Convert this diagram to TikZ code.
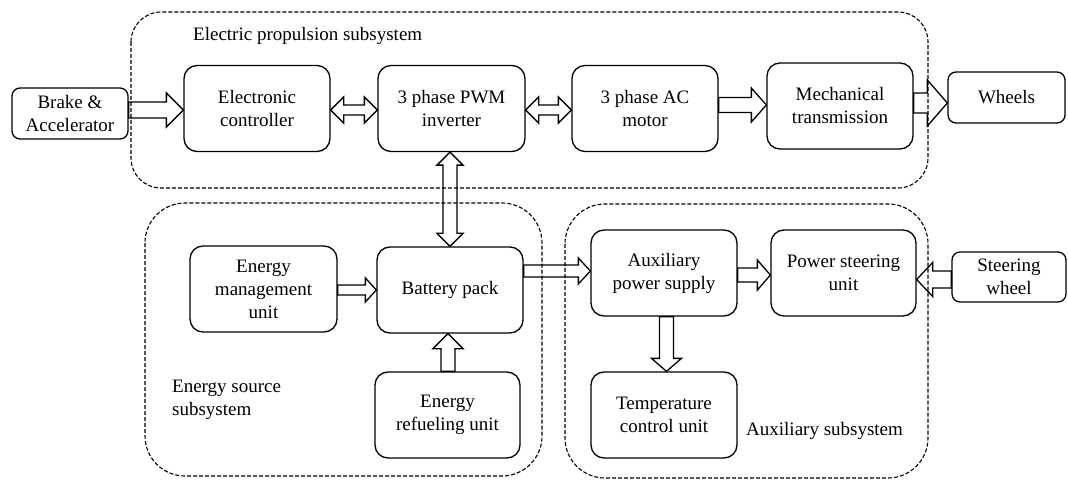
\documentclass[tikz,border=0pt]{standalone}
\usepackage{fontspec}
\setmainfont{Liberation Serif}
\usetikzlibrary{calc}
\tikzset{
  box/.style={draw, line width=1.3pt, rounded corners=13pt, align=center, inner sep=2pt,
    minimum width=146pt, minimum height=86pt, font=\fontsize{19}{23}\selectfont},
  smallbox/.style={box, rounded corners=8pt, minimum height=51pt},
  grp/.style={draw, dashed, line width=1.1pt, dash pattern=on 4pt off 2pt},
  lbl/.style={font=\fontsize{19}{23}\selectfont, align=left, inner sep=0pt},
  blk/.style={draw, line width=1.3pt, line join=miter},
}
\newcommand\sarrow[5]{%
  \path ($(#2)!#5!(#1)$) coordinate (tmpP);
  \draw[blk] ($(#1)!#3!90:(#2)$) -- ($(tmpP)!#3!90:(#2)$) -- ($(tmpP)!#4!90:(#2)$) -- (#2)
    -- ($(tmpP)!#4!-90:(#2)$) -- ($(tmpP)!#3!-90:(#2)$) -- ($(#1)!#3!-90:(#2)$) -- cycle;}
\newcommand\darrow[5]{%
  \path ($(#1)!#5!(#2)$) coordinate (tmpA) ($(#2)!#5!(#1)$) coordinate (tmpB);
  \draw[blk] (#1) -- ($(tmpA)!#4!90:(#2)$) -- ($(tmpA)!#3!90:(#2)$) -- ($(tmpB)!#3!90:(#2)$)
    -- ($(tmpB)!#4!90:(#2)$) -- (#2) -- ($(tmpB)!#4!-90:(#2)$) -- ($(tmpB)!#3!-90:(#2)$)
    -- ($(tmpA)!#3!-90:(#2)$) -- ($(tmpA)!#4!-90:(#2)$) -- cycle;}
\begin{document}
\begin{tikzpicture}[x=1pt, y=-1pt]
\useasboundingbox (0,0) rectangle (1068,481);
% group frames
\draw[grp, rounded corners=30pt] (131,12) rectangle (928,188);
\draw[grp, rounded corners=40pt] (145,203) rectangle (542,476);
\draw[grp, rounded corners=40pt] (565,204) rectangle (928,478);
\node[lbl, anchor=west] (lprop) at (193,36) {Electric propulsion subsystem};
\node[lbl, anchor=west] (lener) at (172,400) {Energy source\\subsystem};
\node[lbl, anchor=west] (laux) at (746,431) {Auxiliary subsystem};
% blocks
\node[smallbox, minimum width=116pt] (brake) at (70,113.5) {Brake \&\\Accelerator};
\node[box] (ec) at (257,108.5) {Electronic\\controller};
\node[box, minimum width=147pt] (inv) at (451.5,108.5) {3 phase PWM\\inverter};
\node[box] (mot) at (645,108.5) {3 phase AC\\motor};
\node[box] (mech) at (840,106) {Mechanical\\transmission};
\node[smallbox, minimum width=117pt] (wh) at (1006.5,97.5) {Wheels};
\node[box, minimum width=147pt] (emu) at (263.5,289) {Energy\\management\\unit};
\node[box] (bat) at (450,290) {Battery pack};
\node[box, minimum width=145pt] (ref) at (447.5,415) {Energy\\refueling unit};
\node[box] (aps) at (664,273) {Auxiliary\\power supply};
\node[box, minimum width=145pt] (psu) at (843.5,273) {Power steering\\unit};
\node[smallbox, minimum width=114pt, minimum height=50pt] (sw) at (1009,277) {Steering\\wheel};
\node[box] (tcu) at (664,415) {Temperature\\control unit};
% connector end points
\coordinate (c1) at (brake.east |- 0,110);
\coordinate (c2) at (ec.west |- 0,110);
\coordinate (c3) at (mech.east |- 0,103);
\coordinate (c4) at (wh.west |- 0,103);
\coordinate (c5) at (bat.east |- 0,271);
\coordinate (c6) at (aps.west |- 0,271);
\coordinate (c7) at (aps.east |- 0,275);
\coordinate (c8) at (psu.west |- 0,275);
\coordinate (c9) at (sw.west |- 0,279.5);
\coordinate (c10) at (psu.east |- 0,279.5);
\coordinate (c11) at (emu.east |- 0,290);
\coordinate (c12) at (bat.west |- 0,290);
\coordinate (c13) at (ref.north -| 448,0);
\coordinate (c14) at (bat.south -| 448,0);
\coordinate (c15) at (aps.south -| 666.5,0);
\coordinate (c16) at (tcu.north -| 666.5,0);
\coordinate (c17) at (inv.south -| 450,0);
\coordinate (c18) at (bat.north -| 450,0);
\coordinate (c19) at (ec.east |- 0,110);
\coordinate (c20) at (inv.west |- 0,110);
\coordinate (c21) at (inv.east |- 0,110);
\coordinate (c22) at (mot.west |- 0,110);
\coordinate (c23) at (mot.east |- 0,105);
\coordinate (c24) at (mech.west |- 0,105);
% connectors
\sarrow{c1}{c2}{8pt}{17pt}{17pt}
\darrow{c19}{c20}{5pt}{13pt}{13pt}
\darrow{c21}{c22}{5pt}{13pt}{13pt}
\sarrow{c23}{c24}{7.5pt}{17pt}{15pt}
\sarrow{c3}{c4}{10pt}{23pt}{20pt}
\darrow{c17}{c18}{7pt}{13pt}{13pt}
\sarrow{c11}{c12}{5pt}{12pt}{11pt}
\sarrow{c13}{c14}{7pt}{15pt}{15pt}
\sarrow{c5}{c6}{6pt}{13pt}{12pt}
\sarrow{c7}{c8}{7pt}{15pt}{13pt}
\sarrow{c9}{c10}{8.5pt}{17pt}{16pt}
\sarrow{c15}{c16}{7pt}{15pt}{13pt}
\end{tikzpicture}
\end{document}
